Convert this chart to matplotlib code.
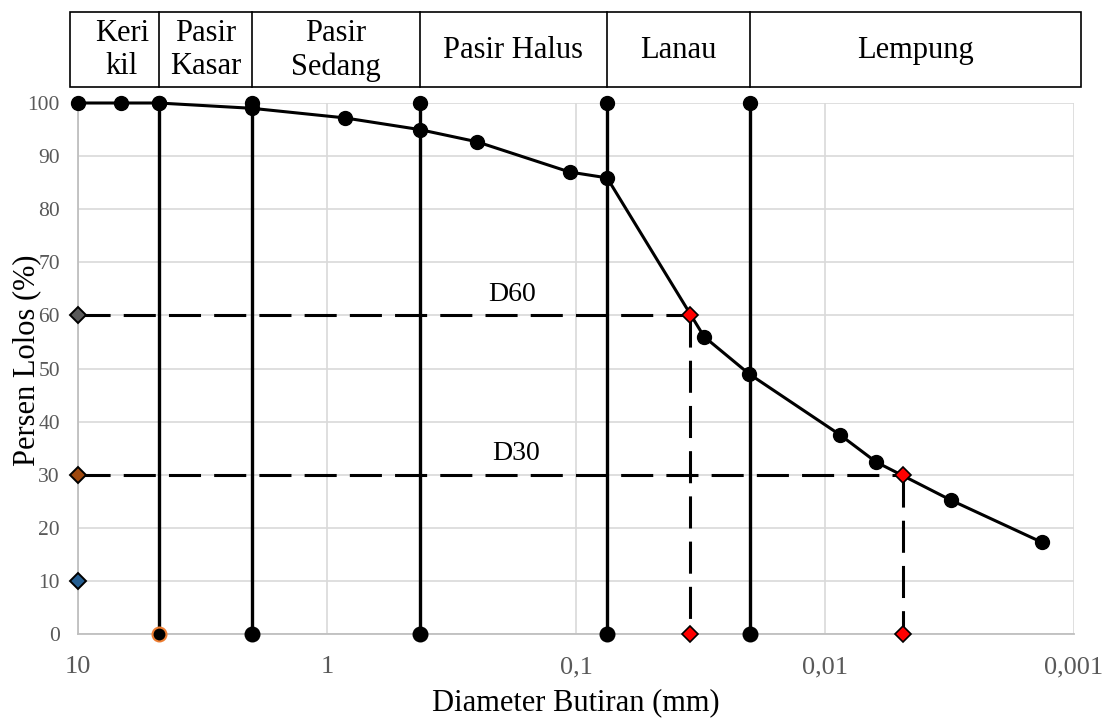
import matplotlib
matplotlib.use("Agg")
import matplotlib.pyplot as plt
from matplotlib.patches import Rectangle
import numpy as np

# ---- data ----
diam = [10, 6.7, 4.75, 2.0, 0.85, 0.425, 0.25, 0.106, 0.075, 0.0306, 0.0202, 0.0087, 0.00624, 0.00312, 0.00135]
passing = [100, 100, 100, 99, 97.2, 95, 92.7, 87.0, 85.9, 56, 49, 37.5, 32.4, 25.2, 17.3]
bounds = [4.75, 2.0, 0.425, 0.075, 0.02]
zones = ["Keri\nkil", "Pasir\nKasar", "Pasir\nSedang", "Pasir Halus", "Lanau", "Lempung"]
d60 = 0.0348
d30 = 0.00486
left_marks = [60, 30, 10]
left_colors = ["#5A5A5A", "#9E480E", "#255E91"]
xticks = [10, 1, 0.1, 0.01, 0.001]
xticklabels = ["10", "1", "0,1", "0,01", "0,001"]
yticks = list(range(0, 101, 10))

plt.rcParams['font.family'] = ['Liberation Serif', 'DejaVu Serif']

fig = plt.figure(figsize=(11.1, 7.24), dpi=100)
ax = fig.add_axes([78/1110, 1-634/724, 996/1110, 531/724])
ax.set_xscale('log')
ax.set_xlim(10, 0.001)
ax.set_ylim(0, 100)

ax.grid(True, which='major', color='#D9D9D9', lw=1.2, zorder=0)
ax.set_axisbelow(True)
for s in ['top', 'right']:
    ax.spines[s].set_visible(False)
for s in ['left', 'bottom']:
    ax.spines[s].set_color('#BFBFBF')
    ax.spines[s].set_linewidth(1.3)
ax.tick_params(length=0)
ax.minorticks_off()
ax.set_xticks(xticks)
ax.set_xticklabels(xticklabels, fontsize=19, color='#595959')
ax.set_yticks(yticks)
ax.set_yticklabels([str(v) for v in yticks], fontsize=15.5, color='#595959')
ax.tick_params(axis='x', pad=16)
ax.tick_params(axis='y', pad=13)
ax.set_xlabel("Diameter Butiran (mm)", fontsize=22)
ax.xaxis.set_label_coords(0.5, -0.102)
ax.set_ylabel("Persen Lolos (%)", fontsize=22)
ax.yaxis.set_label_coords(-0.037, 0.515)

# dashed D60 / D30 lines
dash = dict(color='black', lw=2.2, dashes=(10.5, 4.3), zorder=3, clip_on=False)
ax.plot([10, d60], [60, 60], **dash)
ax.plot([d60, d60], [60, 0], **dash)
ax.plot([10, d30], [30, 30], **dash)
ax.plot([d30, d30], [30, 0], **dash)

# vertical boundary lines
for i, b in enumerate(bounds):
    ax.plot([b, b], [100, 0], color='black', lw=2.4, zorder=4, clip_on=False)
    ax.plot([b], [100], 'o', color='black', ms=10, zorder=5, clip_on=False)
    ec = '#ED7D31' if i == 0 else 'black'
    ax.plot([b], [0], 'o', color='black', mec=ec, mew=1.5, ms=10, zorder=5, clip_on=False)

# gradation curve
ax.plot(diam, passing, '-o', color='black', lw=2.2, ms=10, zorder=6, clip_on=False)

# red diamonds
ax.plot([d60, d60, d30, d30], [60, 0, 30, 0], 'D', color='#FF0000', mec='black',
        mew=1.2, ms=8.5, zorder=7, clip_on=False, ls='none')
# left diamonds
for v, c in zip(left_marks, left_colors):
    ax.plot([10], [v], 'D', color=c, mec='black', mew=1.4, ms=8.5, zorder=7, clip_on=False)

ax.text(0.181, 64.0, "D60", fontsize=20, ha='center', va='center', zorder=8)
ax.text(0.174, 34.0, "D30", fontsize=20, ha='center', va='center', zorder=8)

# header table
hax = fig.add_axes([78/1110, 1-87/724, 996/1110, 75/724], sharex=ax)
hax.set_ylim(0, 1)
hax.axis('off')
xl = 10 ** (1 + 8/996*4)
xr = 10 ** (-3 - 7/996*4)
edges = [xl] + bounds + [xr]
hax.add_patch(Rectangle((xl, 0), xr - xl, 1, fill=False, ec='black', lw=1.2, clip_on=False))
for b in bounds:
    hax.plot([b, b], [0, 1], color='black', lw=1.2, clip_on=False)
for i, z in enumerate(zones):
    xc = np.sqrt(edges[i] * edges[i + 1])
    if i == 0:
        xc = 10 ** (np.log10(xc) - 0.03)
    hax.text(xc, 0.49, z, fontsize=22, ha='center', va='center',
             linespacing=1.2)

fig.savefig("out.png", dpi=100)
